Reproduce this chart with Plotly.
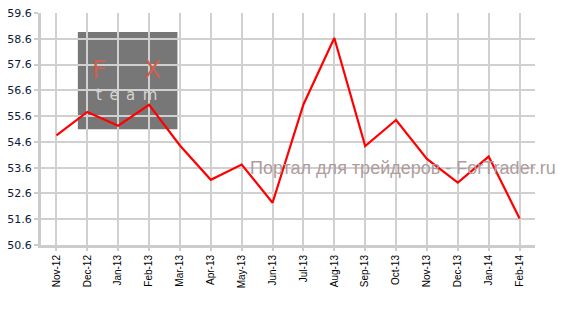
import plotly.graph_objects as go

months = ["Nov-12", "Dec-12", "Jan-13", "Feb-13", "Mar-13", "Apr-13", "May-13", "Jun-13",
          "Jul-13", "Aug-13", "Sep-13", "Oct-13", "Nov-13", "Dec-13", "Jan-14", "Feb-14"]
values = [54.85, 55.76, 55.23, 56.04, 54.46, 53.13, 53.72, 52.24,
          56.05, 58.63, 54.44, 55.45, 53.94, 53.02, 54.03, 51.63]
y_ticks = [50.6, 51.6, 52.6, 53.6, 54.6, 55.6, 56.6, 57.6, 58.6, 59.6]

fig = go.Figure()
fig.add_trace(go.Scatter(
    x=list(range(len(months))), y=values, mode="lines",
    line=dict(color="#ff0000", width=2.2), hoverinfo="skip", showlegend=False,
))

def px(x):
    return (x - 39) / 496

def py(y):
    return (245.5 - y) / 238.2

# logo block (watermark)
fig.add_shape(type="rect", xref="paper", yref="paper",
              x0=px(76), x1=px(176), y0=py(126.7), y1=py(26.7),
              fillcolor="#777777", line=dict(width=0), layer="below")
fig.add_annotation(xref="paper", yref="paper", x=px(125), y=py(65),
                   xanchor="center", yanchor="middle",
                   text="F\u2002\u2002\u2002X", showarrow=False,
                   font=dict(family="DejaVu Sans", size=25, color="#d0604e"))
fig.add_annotation(xref="paper", yref="paper", x=px(125), y=py(91),
                   xanchor="center", yanchor="middle",
                   text="t\u2002e\u2002a\u2002m", showarrow=False,
                   font=dict(family="DejaVu Sans", size=15, color="#d4d4d4"))
fig.add_annotation(xref="paper", yref="paper", x=px(402), y=py(166),
                   xanchor="center", yanchor="middle",
                   text="Портал для трейдеров - ForTrader.ru", showarrow=False,
                   font=dict(family="Liberation Sans", size=18, color="#ae9c9c"))

fig.update_layout(
    width=564, height=310,
    margin=dict(l=39, r=29, t=7, b=64.5),
    paper_bgcolor="white", plot_bgcolor="white",
    xaxis=dict(
        range=[-0.5, 15.5], tickmode="array", tickvals=list(range(len(months))), ticktext=months,
        tickangle=-90, tickfont=dict(family="Liberation Sans", size=10, color="#000000"),
        showgrid=True, gridcolor="#d0d0d0", gridwidth=1.5,
        showline=True, linecolor="#cccccc", linewidth=3,
        ticks="outside", ticklen=3, tickcolor="#cccccc", tickwidth=1.5,
        zeroline=False, fixedrange=True,
    ),
    yaxis=dict(
        range=[50.6, 59.6], tickmode="array", tickvals=y_ticks,
        ticktext=[f"{v:.1f}" for v in y_ticks],
        tickfont=dict(family="DejaVu Sans", size=11, color="#0a1a3a"),
        showgrid=True, gridcolor="#d0d0d0", gridwidth=1.5,
        showline=True, linecolor="#cccccc", linewidth=3,
        ticks="outside", ticklen=4, tickcolor="#cccccc", tickwidth=1.5,
        zeroline=False, fixedrange=True,
    ),
)

fig.write_html("out.html")
